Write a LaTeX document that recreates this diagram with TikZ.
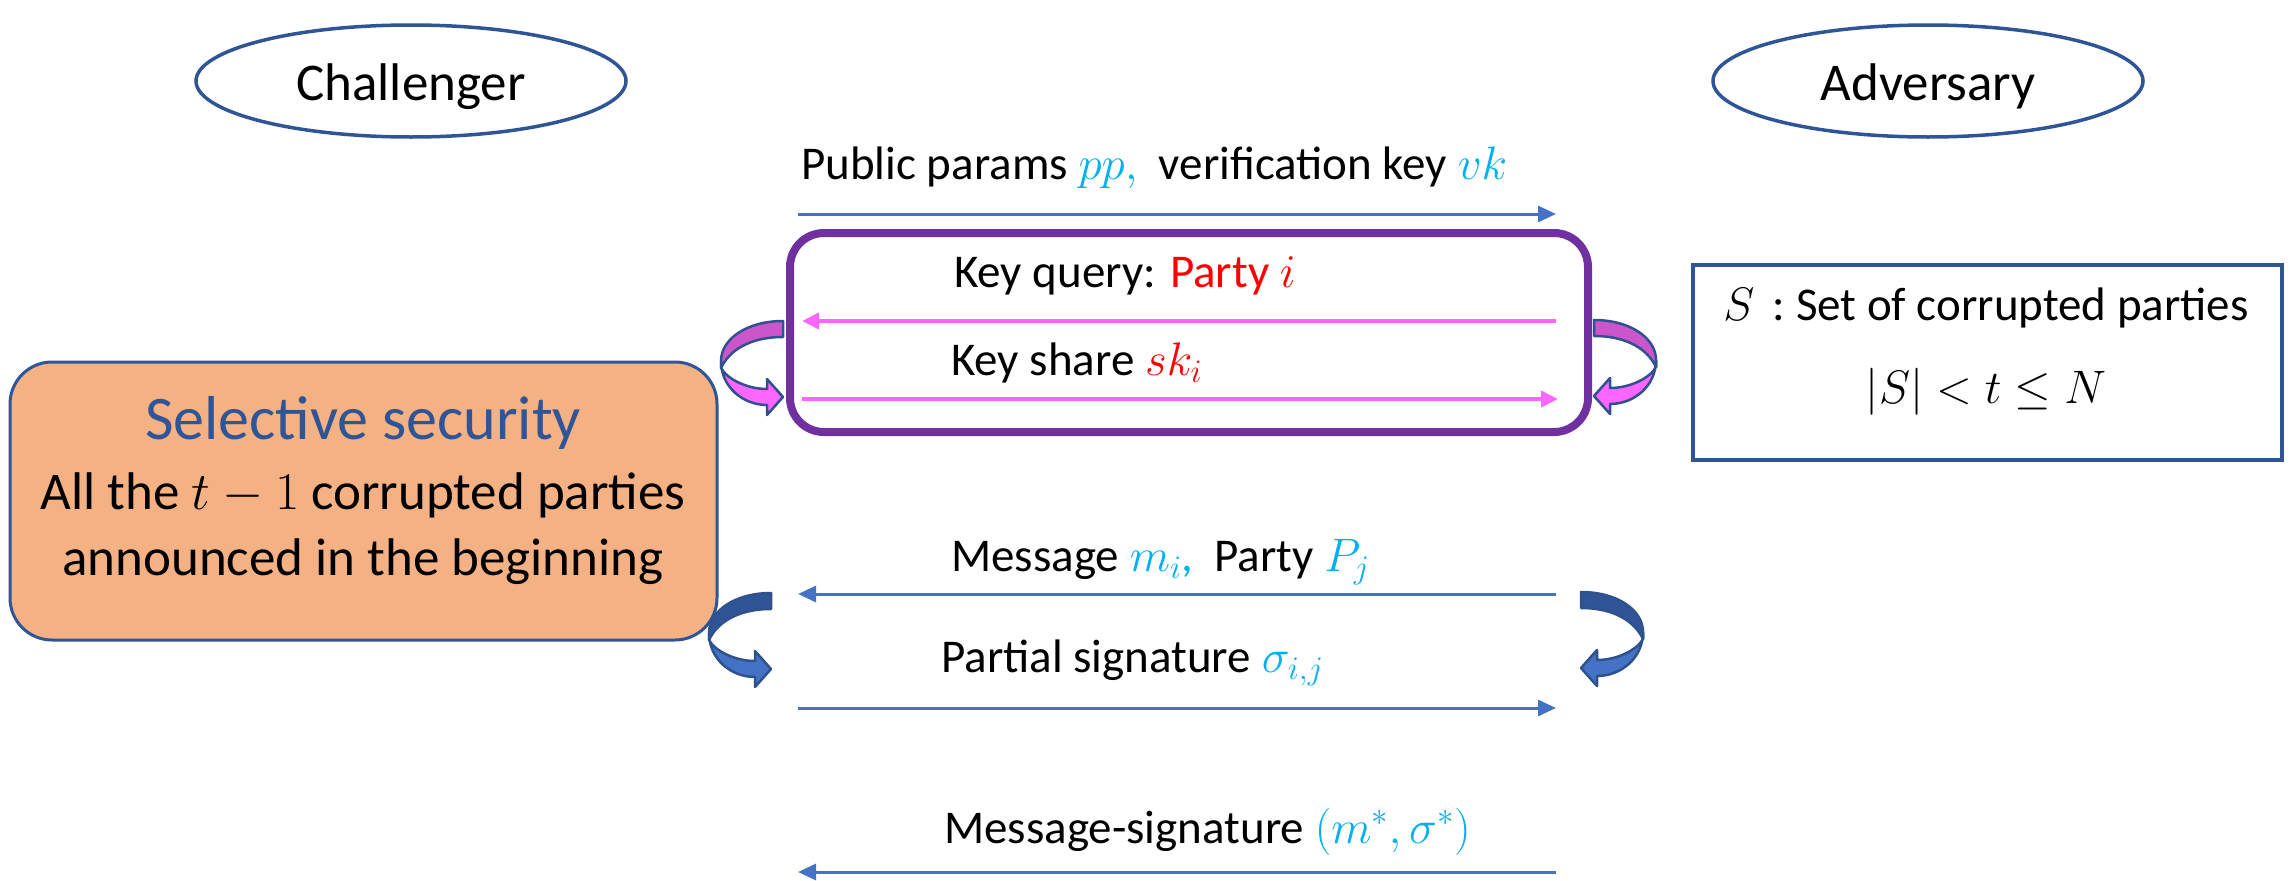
\RequirePackage{fix-cm}
\documentclass[tikz,border=0pt]{standalone}
\usepackage{fontspec}
\setmainfont{Carlito}
\usetikzlibrary{arrows.meta,shapes.geometric}
\definecolor{navy}{HTML}{2F5597}
\definecolor{flowblue}{HTML}{4472C4}
\definecolor{rimblue}{HTML}{2F528F}
\definecolor{ltblue}{HTML}{00B0F0}
\definecolor{pinkline}{HTML}{FF66FF}
\definecolor{pinkdark}{HTML}{CC55CC}
\definecolor{purplebox}{HTML}{7030A0}
\definecolor{peach}{HTML}{F4B183}
\newcommand{\cy}[1]{\textcolor{ltblue}{#1}}
\newcommand{\rd}[1]{\textcolor{red}{#1}}
\begin{document}
\begin{tikzpicture}[x=1pt,y=-1pt,
  party/.style={ellipse, draw=navy, line width=3.5pt, minimum width=430pt, minimum height=112pt, inner sep=0pt},
  big/.style={font=\fontsize{53}{60}\selectfont, inner sep=0pt},
  lbl/.style={font=\fontsize{47}{56}\selectfont, inner sep=0pt, anchor=base west},
  msg/.style={draw=flowblue, line width=3pt, -{Triangle[length=18pt,width=16pt]}},
  keymsg/.style={draw=pinkline, line width=4pt, -{Triangle[length=17pt,width=16pt]}},
  pics/twist/.style 2 args={code={
    % lower, lighter band ending in the arrow head
    \filldraw[fill=#2, draw=rimblue, line width=2.5pt, line join=round]
      (62,40) .. controls (62,66) and (40,84) .. (16,84) -- (16,94) -- (0,76)
      -- (16,58) -- (16,68) .. controls (36,68) and (56,58) .. (62,47) -- cycle;
    % upper, darker band seen from behind
    \filldraw[fill=#1, draw=rimblue, line width=2.5pt, line join=round]
      (0,0) .. controls (36,0) and (62,18) .. (62,40) -- (62,47)
      .. controls (54,30) and (34,16) .. (0,16) -- cycle;
  }}]
\useasboundingbox (0,0) rectangle (2295,881);

% the two players
\node[party] (chal) at (411,81) {};
\node[big, anchor=base] at (411,100) {Challenger};
\node[party] (adv) at (1928,81) {};
\node[big, anchor=base] at (1928,100) {Adversary};

% public parameters
\coordinate (ppL) at (798,214);
\coordinate (ppR) at (1556,214);
\draw[msg] (ppL) -- (ppR);
\node[lbl] (pplbl) at (801,179) {Public params \cy{$pp,$}\ \ verification key \cy{$vk$}};

% key queries
\node[draw=purplebox, line width=8pt, rounded corners=34pt, minimum width=798pt, minimum height=199pt] (keybox) at (1189,332.5) {};
\coordinate (kqR) at (1556,321);
\coordinate (kqL) at (802,321);
\draw[keymsg] (kqR) -- (kqL);
\node[lbl] (kqlbl) at (954,287) {Key query: \rd{Party $i$}};
\coordinate (ksL) at (802,399);
\coordinate (ksR) at (1558,399);
\draw[keymsg] (ksL) -- (ksR);
\node[lbl] (kslbl) at (951,375) {Key share \rd{$sk_i$}};
\pic[xscale=-1] at (783,321) {twist={pinkdark}{pinkline}};
\pic at (1594,320) {twist={pinkdark}{pinkline}};

% corrupted set
\node[draw=navy, line width=4.5pt, minimum width=589pt, minimum height=195pt, inner sep=0pt] (setbox) at (1987.5,362.5) {};
\node[lbl, anchor=base] at (1986,320) {$S$\, :\ Set of corrupted parties};
\node[lbl, anchor=base] at (1986,403) {$|S|<t\le N$};

% selective security note
\node[draw=navy, line width=3pt, fill=peach, rounded corners=42pt, minimum width=707pt, minimum height=278pt] (selbox) at (363.5,501) {};
\node[inner sep=0pt, anchor=base, font=\fontsize{62}{70}\selectfont, text=navy] at (363,439) {Selective security};
\node[big, anchor=base] at (363,509) {All the $t-1$ corrupted parties};
\node[big, anchor=base] at (363,575) {announced in the beginning};

% signing queries
\coordinate (msR) at (1556,594);
\coordinate (msL) at (798,594);
\draw[msg] (msR) -- (msL);
\node[lbl] (mslbl) at (951,571) {Message \cy{$m_i$,}\ \ Party \cy{$P_j$}};
\coordinate (psL) at (798,708);
\coordinate (psR) at (1556,708);
\draw[msg] (psL) -- (psR);
\node[lbl] (pslbl) at (941,672) {Partial signature \cy{$\sigma_{i,j}$}};
\pic[xscale=-1] at (771,593) {twist={navy}{flowblue}};
\pic at (1581,592) {twist={navy}{flowblue}};

% forgery
\coordinate (fsR) at (1556,872);
\coordinate (fsL) at (798,872);
\draw[msg] (fsR) -- (fsL);
\node[lbl] (fslbl) at (944,843) {Message-signature \cy{$(m^*,\sigma^*)$}};
\end{tikzpicture}
\end{document}
